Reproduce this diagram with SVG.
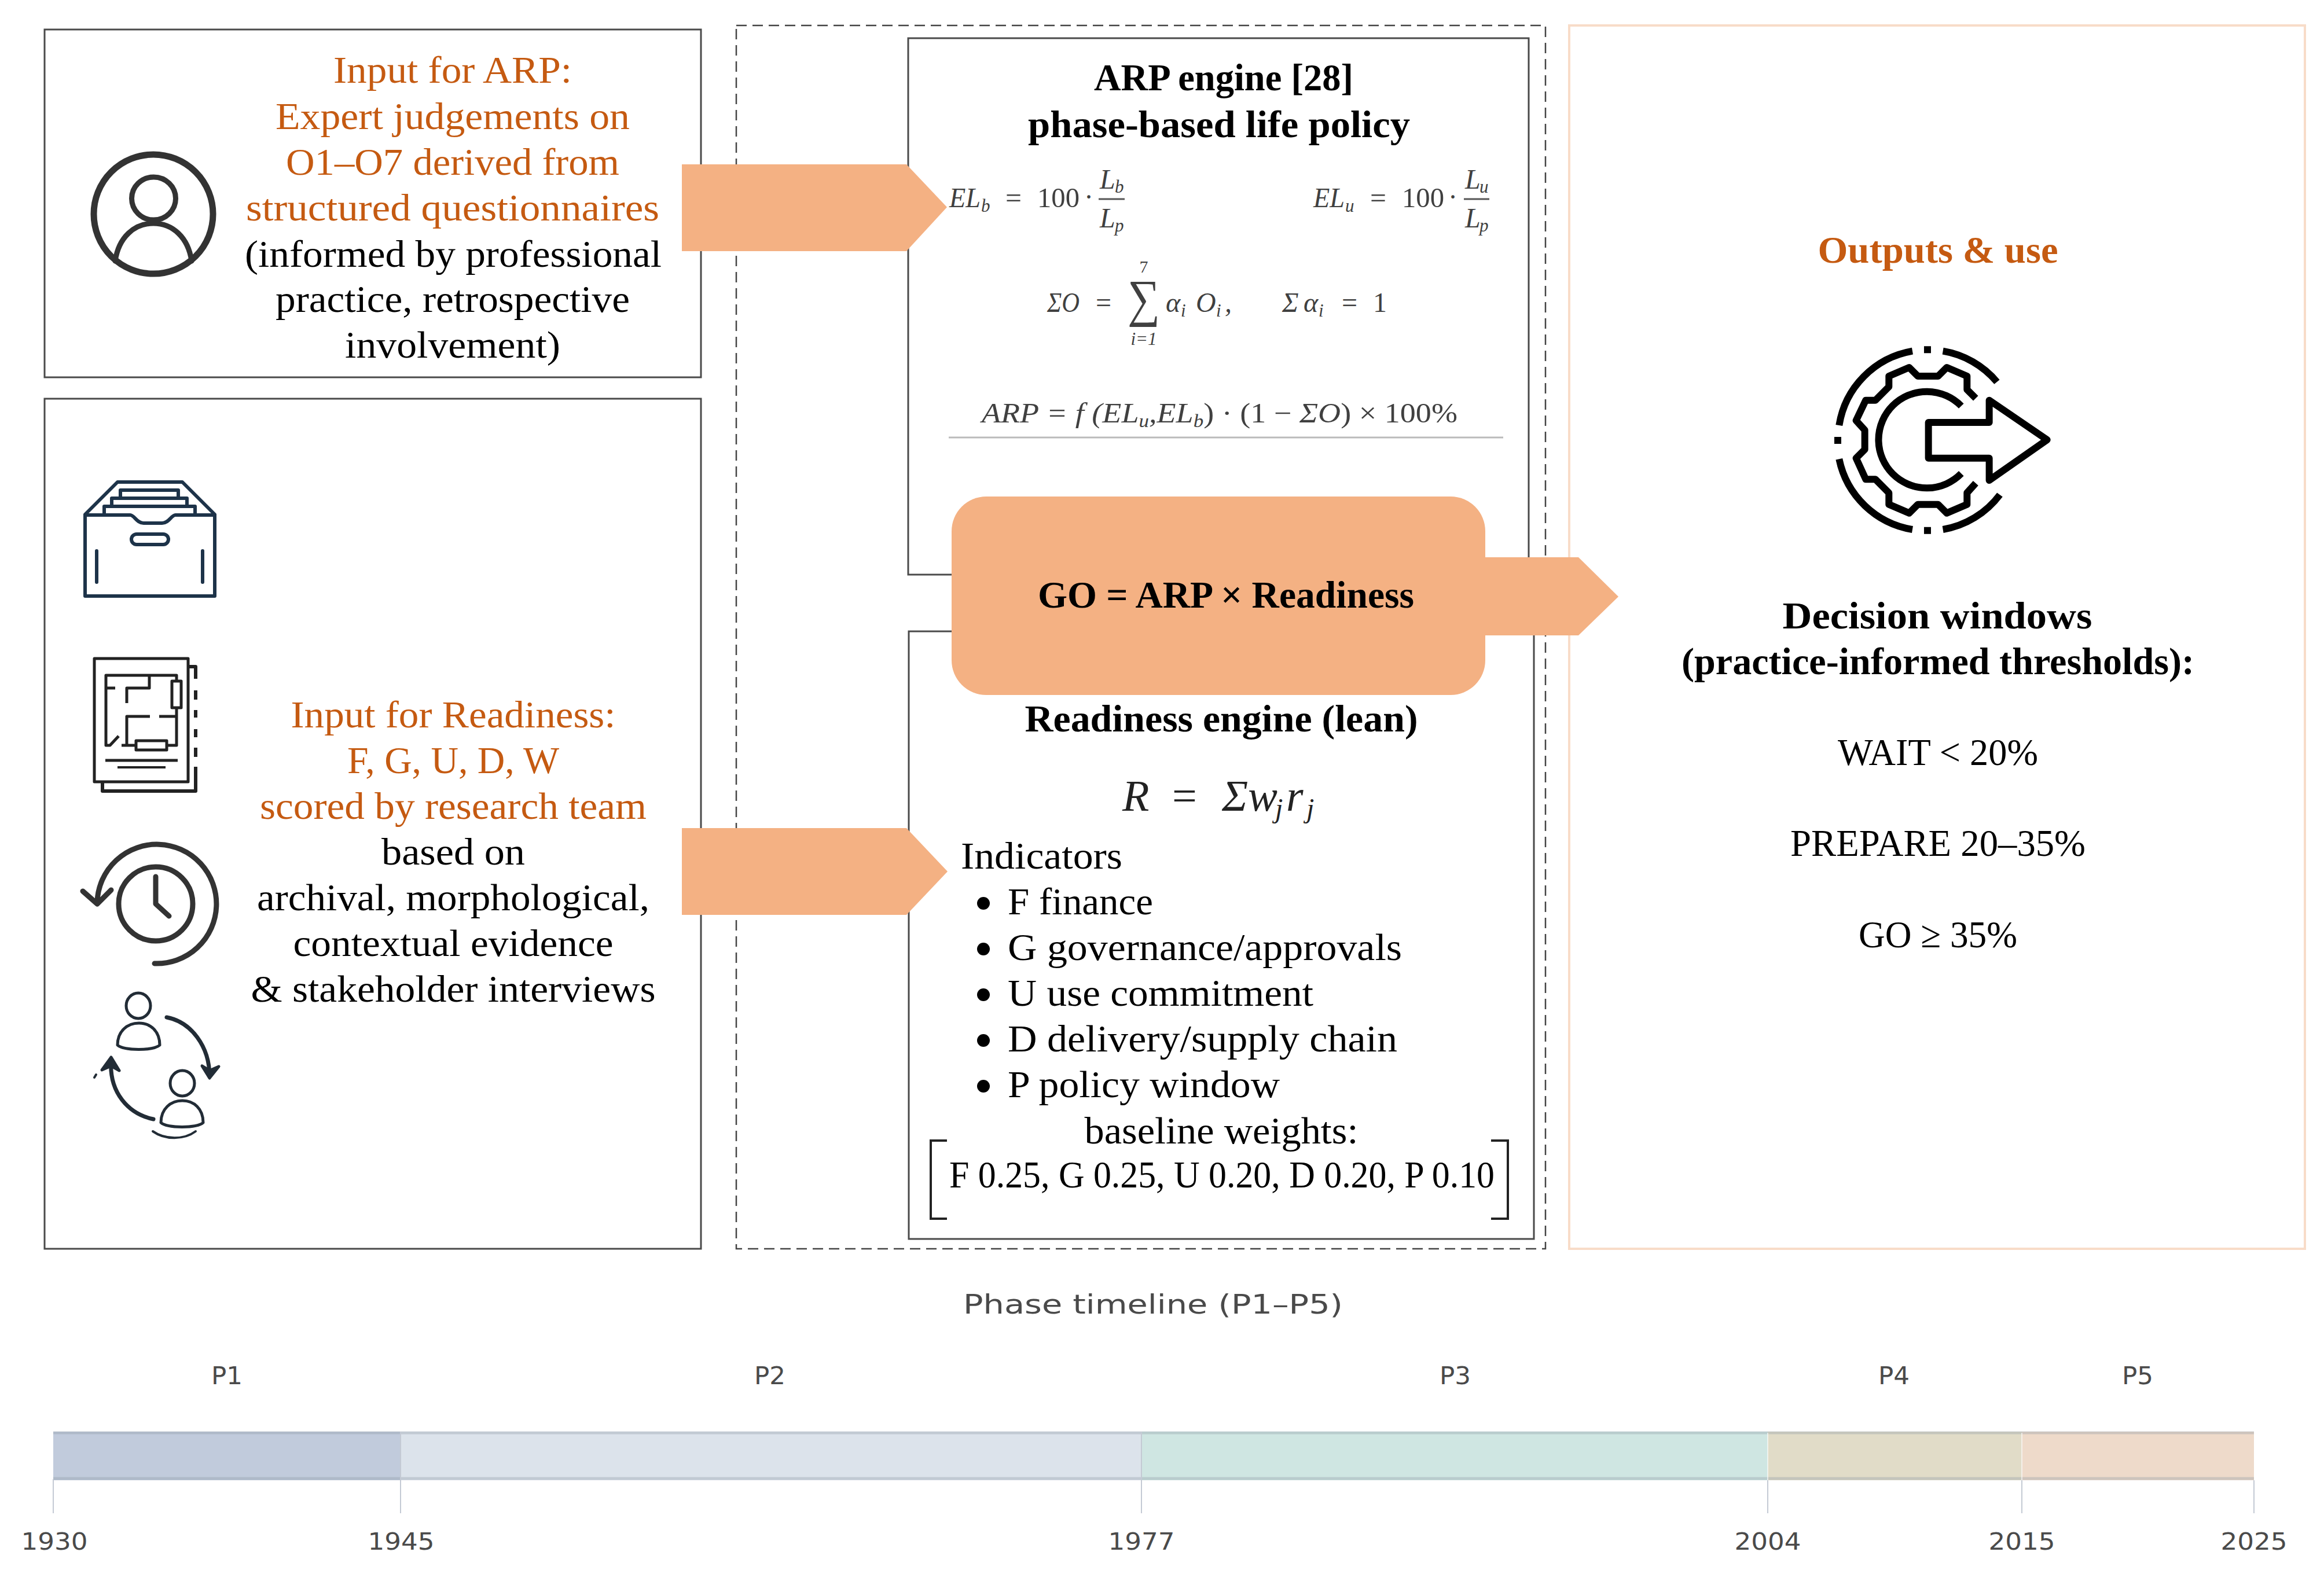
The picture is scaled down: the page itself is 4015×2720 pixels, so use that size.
<svg xmlns="http://www.w3.org/2000/svg" width="4015" height="2720" viewBox="0 0 4015 2720">
<style>
text{font-family:"Liberation Serif","Times New Roman",serif;font-size:66px;fill:#000}
.c{text-anchor:middle}
.o{fill:#c55a11}
.b{font-weight:700}
.box{fill:#fff;stroke:#4a4a4a;stroke-width:3}
.m{font-style:italic;font-size:48px;fill:#404040}
.mr{font-size:48px;fill:#404040}
.s{font-style:italic;font-size:31px;fill:#404040}
.sr{font-size:30px;fill:#404040}
.tl{font-family:"DejaVu Sans",sans-serif;font-size:40px;fill:#4a4a4a;text-anchor:middle}
.p{font-size:43px}
.arrow{fill:#f4b183}
.ic{fill:none;stroke-linecap:round;stroke-linejoin:round}
.tick{stroke:#c4cad4;stroke-width:2}
.rf{font-style:italic;font-size:76px;fill:#222}
.rs{font-style:italic;font-size:48px;fill:#222}
</style>
<rect width="4015" height="2720" fill="#fff"/>
<g id="model-frame">
<rect x="1272" y="44" width="1398" height="2114" fill="none" stroke="#444" stroke-width="2.500" stroke-dasharray="18 10"/>
</g>
<g id="outputs">
<rect x="2711" y="44" width="1271" height="2114" fill="none" stroke="#f8dcc8" stroke-width="4"/>
<text class="c o b" x="3348" y="454" textLength="415" lengthAdjust="spacingAndGlyphs">Outputs &amp; use</text>
<g transform="translate(3100 560) scale(.3333)" class="ic" stroke="#000" stroke-width="36" style="stroke-linecap:butt">
<path d="M232 525A465 465 0 0 1 612 140M770 140A465 465 0 0 1 1050 300M232 700A465 465 0 0 0 612 1065M770 1065A465 465 0 0 0 1065 885"/>
<path d="M672 115H708V151H672ZM207 585H243V621H207ZM672 1052H708V1088H672Z" fill="#000" stroke="none"/>
<path d="M865 425A250 250 0 1 0 865 775"/>
<path d="M940 385L895 340V270L790 225L745 270H640L595 225L490 270V325L420 395H370L320 500L365 550V650L320 695L370 805H420L490 875V935L595 980L640 935H745L790 980L895 935V875L940 825"/>
<path d="M695 510H1010V395L1310 600L1010 810V695H695Z"/>
</g>
<text class="c b" x="3347" y="1086" textLength="535" lengthAdjust="spacingAndGlyphs">Decision windows</text>
<text class="c b" x="3348" y="1165" textLength="886" lengthAdjust="spacingAndGlyphs">(practice-informed thresholds):</text>
<text class="c" x="3348" y="1322" textLength="346" lengthAdjust="spacingAndGlyphs">WAIT &lt; 20%</text>
<text class="c" x="3348" y="1479" textLength="510" lengthAdjust="spacingAndGlyphs">PREPARE 20–35%</text>
<text class="c" x="3348" y="1637" textLength="274" lengthAdjust="spacingAndGlyphs">GO ≥ 35%</text>
</g>
<g id="input-arp">
<rect class="box" x="77" y="51" width="1134" height="601"/>
<g class="ic" stroke="#333" stroke-width="11">
<circle cx="265" cy="370" r="103"/>
<ellipse cx="265.500" cy="343" rx="38" ry="37" stroke-width="9"/>
<path d="M199 451C205 410 232 386 265 386S325 410 331 451" stroke-width="9"/>
</g>
<text class="c o" x="782" y="143" textLength="412" lengthAdjust="spacingAndGlyphs">Input for ARP:</text>
<text class="c o" x="782" y="223" textLength="612" lengthAdjust="spacingAndGlyphs">Expert judgements on</text>
<text class="c o" x="782" y="302" textLength="576" lengthAdjust="spacingAndGlyphs">O1–O7 derived from</text>
<text class="c o" x="782" y="381" textLength="714" lengthAdjust="spacingAndGlyphs">structured questionnaires</text>
<text class="c" x="783" y="461" textLength="720" lengthAdjust="spacingAndGlyphs">(informed by professional</text>
<text class="c" x="782" y="539" textLength="612" lengthAdjust="spacingAndGlyphs">practice, retrospective</text>
<text class="c" x="782" y="618" textLength="372" lengthAdjust="spacingAndGlyphs">involvement)</text>
</g>
<g id="input-readiness">
<rect class="box" x="77" y="689" width="1134" height="1469"/>
<g class="ic" stroke="#1d3349" stroke-width="6">
<path d="M147 889L203 833H315L371 889V1030H147Z"/>
<path d="M180 889V875H337V889M193 875V861H323V875M208 861V847H308V861"/>
<path d="M147 890H225C232 890 236 904 248 904H280C292 904 296 890 303 890H371"/>
<rect x="227" y="923" width="64" height="18" rx="9"/>
<path d="M167 952V1006M350 952V1006" stroke-width="6"/>
</g>
<g class="ic" stroke="#222" stroke-width="5" style="stroke-linecap:butt">
<rect x="163" y="1138" width="162" height="213"/>
<path d="M325 1152H338V1173M338 1193V1209M338 1227V1240M338 1260V1274M338 1292V1308M338 1325V1367H177V1351" stroke-width="6"/>
<path d="M199 1189H183M305 1177V1167H183V1288H190L205 1272M258 1167V1189H219V1215M259 1238H219V1288M210 1288H235M288 1288H305V1223M275 1238H305"/>
<rect x="297" y="1177" width="16" height="46"/>
<rect x="235" y="1280" width="53" height="16"/>
<path d="M182 1314H307" stroke-width="5"/>
<path d="M203 1326H286" stroke-width="4"/>
</g>
<g class="ic" stroke="#333" stroke-width="9">
<circle cx="269" cy="1562" r="64"/>
<path d="M269 1515V1562L292 1583"/>
<path d="M267 1665A103 103 0 1 0 168 1558M143 1540L168 1562L192 1538"/>
</g>
<g class="ic" stroke="#222c36" stroke-width="5">
<ellipse cx="239" cy="1738" rx="21" ry="22"/>
<path d="M203 1806C203 1782 220 1768 240 1768S276 1782 276 1806C265 1816 214 1816 203 1806Z"/>
<ellipse cx="315" cy="1872" rx="21" ry="22"/>
<path d="M278 1940C278 1916 295 1902 315 1902S351 1916 351 1940C340 1950 289 1950 278 1940Z"/>
<path d="M288 1758C330 1766 362 1808 362 1860" stroke-width="7"/>
<path d="M349 1842L362 1863L378 1843L362 1850Z" fill="#222c36" stroke-width="5"/>
<path d="M265 1934C222 1925 188 1888 192 1832" stroke-width="7"/>
<path d="M176 1849L192 1827L206 1850L192 1842Z" fill="#222c36" stroke-width="5"/>
<path d="M264 1955C285 1970 318 1970 338 1955" stroke-width="4"/>
<path d="M163 1862L166 1857" stroke-width="4"/>
</g>
<text class="c o" x="783" y="1257" textLength="561" lengthAdjust="spacingAndGlyphs">Input for Readiness:</text>
<text class="c o" x="783" y="1336" textLength="366" lengthAdjust="spacingAndGlyphs">F, G, U, D, W</text>
<text class="c o" x="783" y="1415" textLength="668" lengthAdjust="spacingAndGlyphs">scored by research team</text>
<text class="c" x="783" y="1494" textLength="248" lengthAdjust="spacingAndGlyphs">based on</text>
<text class="c" x="783" y="1573" textLength="678" lengthAdjust="spacingAndGlyphs">archival, morphological,</text>
<text class="c" x="783" y="1652" textLength="553" lengthAdjust="spacingAndGlyphs">contextual evidence</text>
<text class="c" x="783" y="1731" textLength="699" lengthAdjust="spacingAndGlyphs">&amp; stakeholder interviews</text>
</g>
<g id="arp-engine">
<rect class="box" x="1569" y="66" width="1072" height="927"/>
<text class="c b" x="2114" y="156" textLength="448" lengthAdjust="spacingAndGlyphs">ARP engine [28]</text>
<text class="c b" x="2106" y="237" textLength="660" lengthAdjust="spacingAndGlyphs">phase-based life policy</text>
<text class="m" x="1640" y="358" textLength="54" lengthAdjust="spacingAndGlyphs">EL</text><text class="s" x="1695" y="366">b</text>
<text class="mr" x="1737" y="358" textLength="28" lengthAdjust="spacingAndGlyphs">=</text><text class="mr" x="1792" y="358" textLength="73" lengthAdjust="spacingAndGlyphs">100</text><text class="mr" x="1873" y="356">·</text>
<path d="M1898 344H1943M2529 344H2573" stroke="#555" stroke-width="3"/>
<text class="m" x="1900" y="326">L</text><text class="s" x="1926" y="333">b</text>
<text class="m" x="1900" y="393">L</text><text class="s" x="1926" y="400">p</text>
<text class="m" x="2269" y="358" textLength="54" lengthAdjust="spacingAndGlyphs">EL</text><text class="s" x="2324" y="366">u</text>
<text class="mr" x="2367" y="358" textLength="28" lengthAdjust="spacingAndGlyphs">=</text><text class="mr" x="2422" y="358" textLength="73" lengthAdjust="spacingAndGlyphs">100</text><text class="mr" x="2502" y="356">·</text>
<text class="m" x="2531" y="326">L</text><text class="s" x="2556" y="333">u</text>
<text class="m" x="2531" y="393">L</text><text class="s" x="2556" y="400">p</text>
<text class="m" x="1809" y="539" textLength="56" lengthAdjust="spacingAndGlyphs">ΣO</text>
<text class="mr" x="1893" y="539">=</text>
<text class="mr c" x="1976" y="546" style="font-size:90px" textLength="56" lengthAdjust="spacingAndGlyphs">∑</text>
<text class="sr c" x="1976" y="471">7</text>
<text class="s c" x="1976" y="596">i=1</text>
<text class="m" x="2014" y="539">α</text><text class="s" x="2040" y="547">i</text>
<text class="m" x="2066" y="539">O</text><text class="s" x="2101" y="547">i</text><text class="m" x="2116" y="539">,</text>
<text class="m" x="2215" y="539">Σ</text><text class="m" x="2252" y="539">α</text><text class="s" x="2278" y="547">i</text>
<text class="mr" x="2318" y="539">=</text><text class="mr" x="2372" y="539">1</text>
<text class="m" x="1696" y="730" textLength="822" lengthAdjust="spacingAndGlyphs">ARP  =  f (EL<tspan dy="8" font-size="31">u</tspan><tspan dy="-8">,EL</tspan><tspan dy="8" font-size="31">b</tspan><tspan dy="-8" font-style="normal">)  ·  (1  −  </tspan>ΣO<tspan font-style="normal">)  ×  100%</tspan></text>
<path d="M1639 756H2597" stroke="#bbb" stroke-width="3"/>
</g>
<g id="readiness-engine">
<rect class="box" x="1570" y="1091" width="1080" height="1050"/>
<text class="c b" x="2110" y="1264" textLength="679" lengthAdjust="spacingAndGlyphs">Readiness engine (lean)</text>
<text class="rf" x="1939" y="1401">R</text>
<text class="rf" x="2025" y="1401" style="font-style:normal">=</text>
<text class="rf" x="2111" y="1401">Σw</text>
<text class="rs" x="2203" y="1413">j</text>
<text class="rf" x="2222" y="1401">r</text>
<text class="rs" x="2257" y="1413">j</text>
<text x="1660" y="1501" textLength="279" lengthAdjust="spacingAndGlyphs">Indicators</text>
<circle cx="1699" cy="1561" r="11"/><text x="1741" y="1580" textLength="251" lengthAdjust="spacingAndGlyphs">F finance</text>
<circle cx="1699" cy="1640" r="11"/><text x="1741" y="1659" textLength="681" lengthAdjust="spacingAndGlyphs">G governance/approvals</text>
<circle cx="1699" cy="1719" r="11"/><text x="1741" y="1738" textLength="528" lengthAdjust="spacingAndGlyphs">U use commitment</text>
<circle cx="1699" cy="1798" r="11"/><text x="1741" y="1817" textLength="673" lengthAdjust="spacingAndGlyphs">D delivery/supply chain</text>
<circle cx="1699" cy="1877" r="11"/><text x="1741" y="1896" textLength="470" lengthAdjust="spacingAndGlyphs">P policy window</text>
<text class="c" x="2110" y="1976" textLength="473" lengthAdjust="spacingAndGlyphs">baseline weights:</text>
<text class="c" x="2111" y="2052" textLength="942" lengthAdjust="spacingAndGlyphs">F 0.25, G 0.25, U 0.20, D 0.20, P 0.10</text>
<path d="M1636 1971H1608V2106H1636M2576 1971H2605V2106H2576" fill="none" stroke="#222" stroke-width="4"/>
</g>
<g id="connectors">
<path class="arrow" d="M1178 284H1566L1636 358L1566 434H1178Z"/>
<path class="arrow" d="M1178 1431H1566L1637 1506L1566 1581H1178Z"/>
<path class="arrow" d="M2560 963H2727L2796 1031L2727 1098H2560Z"/>
</g>
<g id="go-formula">
<rect class="arrow" x="1644" y="858" width="922" height="343" rx="60"/>
<text class="c b" x="2118" y="1050" textLength="650" lengthAdjust="spacingAndGlyphs">GO = ARP × Readiness</text>
</g>
<g id="timeline">
<text class="tl" x="1992" y="2270" textLength="656" lengthAdjust="spacingAndGlyphs" style="font-size:46px">Phase timeline (P1–P5)</text>
<rect x="92" y="2474" width="600" height="84" fill="#c1cbdc"/>
<rect x="692" y="2474" width="1280" height="84" fill="#dce3eb"/>
<rect x="1972" y="2474" width="1082" height="84" fill="#cfe6e2"/>
<rect x="3054" y="2474" width="439" height="84" fill="#e1dcc8"/>
<rect x="3493" y="2474" width="401" height="84" fill="#eedaca"/>
<path d="M92 2476H3894M92 2555H3894" stroke="#8f9aa5" stroke-opacity=".35" stroke-width="5"/>
<path class="tick" d="M92 2556V2615M692 2474V2615M1972 2474V2615M3054 2558V2615M3493 2558V2615M3894 2558V2615"/>
<path d="M3054 2476V2558M3493 2476V2558" stroke="#fff" stroke-opacity=".6" stroke-width="2"/>
<text class="tl p" x="392" y="2392" textLength="54" lengthAdjust="spacingAndGlyphs">P1</text>
<text class="tl p" x="1330" y="2392" textLength="54" lengthAdjust="spacingAndGlyphs">P2</text>
<text class="tl p" x="2514" y="2392" textLength="54" lengthAdjust="spacingAndGlyphs">P3</text>
<text class="tl p" x="3272" y="2392" textLength="54" lengthAdjust="spacingAndGlyphs">P4</text>
<text class="tl p" x="3693" y="2392" textLength="54" lengthAdjust="spacingAndGlyphs">P5</text>
<text class="tl" x="94" y="2678" textLength="115" lengthAdjust="spacingAndGlyphs">1930</text>
<text class="tl" x="693" y="2678" textLength="115" lengthAdjust="spacingAndGlyphs">1945</text>
<text class="tl" x="1972" y="2678" textLength="115" lengthAdjust="spacingAndGlyphs">1977</text>
<text class="tl" x="3054" y="2678" textLength="115" lengthAdjust="spacingAndGlyphs">2004</text>
<text class="tl" x="3493" y="2678" textLength="115" lengthAdjust="spacingAndGlyphs">2015</text>
<text class="tl" x="3894" y="2678" textLength="115" lengthAdjust="spacingAndGlyphs">2025</text>
</g>
</svg>
